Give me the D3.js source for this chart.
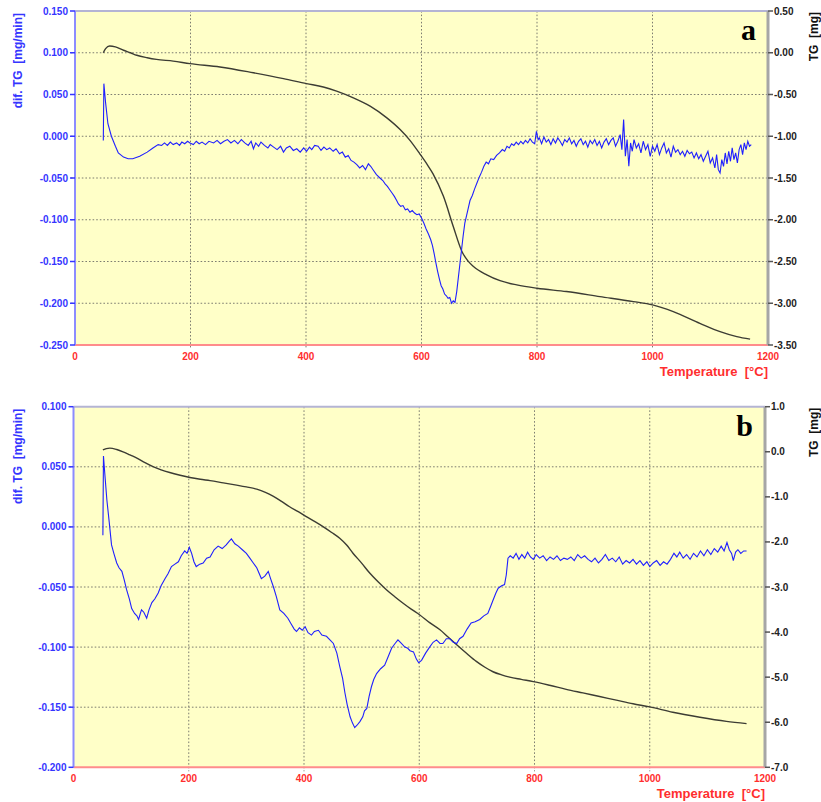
<!DOCTYPE html>
<html>
<head>
  <meta charset="utf-8">
  <script src="https://d3js.org/d3.v7.min.js"></script>
  <style>
    body { margin: 0; background: #ffffff; }
    svg { display: block; }
  </style>
</head>
<body>
<script type="text/javascript">
  // ---- data: [temperature °C, value] ----

  // panel a, DTG (mg/min)
  var dtgA = [
    [49,-0.005],[50,0.063],[53,0.040],[57,0.015],[63,0.000],[70,-0.012],[75,-0.020],[84,-0.025],
    [92,-0.027],[100,-0.027],[112,-0.024],[125,-0.019],[135,-0.014],[144,-0.010],[150,-0.011],
    [155,-0.008],[160,-0.011],[165,-0.007],[170,-0.010],[176,-0.008],[181,-0.011],[185,-0.007],
    [190,-0.009],[195,-0.006],[199,-0.008],[205,-0.010],[210,-0.006],[215,-0.009],[220,-0.007],
    [226,-0.010],[232,-0.006],[240,-0.008],[246,-0.005],[252,-0.009],[258,-0.006],[264,-0.004],
    [270,-0.008],[276,-0.005],[282,-0.009],[288,-0.004],[294,-0.008],[300,-0.011],[305,-0.006],
    [309,-0.015],[313,-0.008],[318,-0.012],[322,-0.007],[328,-0.011],[334,-0.014],[338,-0.010],
    [344,-0.013],[350,-0.016],[356,-0.012],[361,-0.019],[366,-0.014],[372,-0.012],[378,-0.017],
    [384,-0.015],[390,-0.019],[396,-0.014],[401,-0.018],[406,-0.013],[410,-0.016],[415,-0.011],
    [421,-0.012],[426,-0.017],[431,-0.013],[436,-0.016],[441,-0.014],[447,-0.018],[452,-0.015],
    [458,-0.021],[463,-0.019],[468,-0.025],[473,-0.023],[478,-0.029],[483,-0.031],[488,-0.034],
    [493,-0.038],[498,-0.035],[503,-0.040],[508,-0.033],[512,-0.036],[517,-0.041],[522,-0.046],
    [528,-0.050],[533,-0.053],[537,-0.057],[541,-0.060],[545,-0.064],[549,-0.068],[553,-0.072],
    [557,-0.077],[560,-0.081],[564,-0.084],[568,-0.083],[572,-0.088],[576,-0.087],[580,-0.091],
    [584,-0.089],[588,-0.092],[592,-0.094],[596,-0.093],[600,-0.098],[604,-0.104],[608,-0.111],
    [612,-0.117],[616,-0.124],[619,-0.131],[622,-0.141],[625,-0.152],[628,-0.162],[631,-0.171],
    [634,-0.179],[637,-0.183],[640,-0.189],[643,-0.191],[646,-0.194],[649,-0.193],[652,-0.200],
    [655,-0.197],[658,-0.199],[661,-0.186],[664,-0.168],[667,-0.150],[669,-0.138],[672,-0.120],
    [675,-0.104],[678,-0.095],[681,-0.086],[684,-0.077],[688,-0.071],[692,-0.063],[696,-0.056],
    [700,-0.049],[704,-0.043],[708,-0.036],[712,-0.031],[716,-0.033],[720,-0.027],[725,-0.028],
    [730,-0.023],[735,-0.020],[740,-0.016],[744,-0.018],[748,-0.012],[752,-0.014],[756,-0.009],
    [760,-0.011],[764,-0.007],[768,-0.010],[772,-0.006],[776,-0.009],[780,-0.005],[784,-0.008],
    [788,-0.003],[792,-0.007],[796,-0.009],[799,0.006],[802,-0.004],[804,-0.002],[808,-0.009],
    [812,-0.001],[816,-0.007],[820,-0.004],[824,-0.010],[828,-0.003],[832,-0.008],[836,-0.002],
    [840,-0.006],[844,-0.011],[848,-0.004],[852,-0.007],[856,-0.002],[860,-0.009],[864,-0.005],
    [868,-0.012],[872,-0.006],[876,-0.003],[880,-0.010],[884,-0.006],[888,-0.013],[892,-0.005],
    [896,-0.009],[900,-0.004],[904,-0.011],[908,-0.006],[912,-0.014],[916,-0.007],[920,-0.003],
    [924,-0.010],[928,-0.005],[932,-0.002],[936,-0.012],[940,-0.006],[944,0.002],[947,-0.016],
    [950,0.020],[953,-0.024],[956,-0.004],[959,-0.036],[962,-0.008],[965,-0.018],[968,-0.004],
    [972,-0.014],[976,-0.009],[980,-0.020],[984,-0.006],[988,-0.016],[992,-0.010],[996,-0.024],
    [1000,-0.012],[1004,-0.018],[1008,-0.010],[1012,-0.022],[1016,-0.014],[1020,-0.008],
    [1024,-0.020],[1028,-0.015],[1032,-0.025],[1036,-0.012],[1040,-0.019],[1044,-0.016],
    [1048,-0.022],[1052,-0.018],[1056,-0.024],[1060,-0.017],[1064,-0.021],[1068,-0.019],
    [1072,-0.026],[1076,-0.020],[1080,-0.027],[1084,-0.022],[1088,-0.030],[1092,-0.024],
    [1096,-0.018],[1100,-0.032],[1104,-0.026],[1108,-0.038],[1111,-0.022],[1114,-0.040],
    [1117,-0.044],[1120,-0.028],[1123,-0.036],[1126,-0.020],[1129,-0.033],[1132,-0.018],
    [1135,-0.030],[1138,-0.014],[1141,-0.028],[1144,-0.020],[1147,-0.032],[1150,-0.016],
    [1153,-0.010],[1156,-0.022],[1159,-0.008],[1162,-0.016],[1165,-0.006],[1168,-0.012],[1171,-0.010]
  ];

  // panel a, TG (mg)
  var tgA = [
    [49,0.00],[53,0.05],[60,0.08],[70,0.07],[84,0.03],[96,0.00],[107,-0.03],[125,-0.06],
    [141,-0.08],[170,-0.10],[199,-0.13],[251,-0.17],[309,-0.24],[361,-0.31],[401,-0.37],
    [430,-0.41],[453,-0.46],[482,-0.54],[511,-0.64],[540,-0.78],[563,-0.92],[580,-1.05],
    [597,-1.21],[610,-1.34],[620,-1.45],[638,-1.72],[655,-2.08],[670,-2.38],[680,-2.49],
    [690,-2.56],[713,-2.66],[736,-2.73],[765,-2.78],[800,-2.82],[851,-2.86],[909,-2.92],
    [967,-2.98],[1000,-3.02],[1036,-3.10],[1082,-3.24],[1117,-3.34],[1146,-3.40],[1169,-3.43]
  ];

  // panel b, DTG (mg/min)
  var dtgB = [
    [51,-0.007],[52,0.059],[55,0.040],[58,0.022],[62,0.004],[66,-0.015],[70,-0.022],[75,-0.030],
    [79,-0.034],[84,-0.037],[88,-0.044],[92,-0.052],[97,-0.060],[101,-0.068],[106,-0.072],
    [110,-0.074],[113,-0.077],[116,-0.072],[118,-0.069],[122,-0.071],[127,-0.076],[131,-0.069],
    [136,-0.063],[141,-0.060],[147,-0.055],[152,-0.049],[159,-0.043],[164,-0.039],[170,-0.033],
    [176,-0.031],[182,-0.029],[187,-0.024],[193,-0.020],[197,-0.022],[201,-0.017],[205,-0.022],
    [209,-0.029],[213,-0.033],[219,-0.031],[225,-0.030],[231,-0.026],[237,-0.025],[244,-0.019],
    [251,-0.016],[258,-0.018],[265,-0.015],[270,-0.012],[274,-0.010],[280,-0.014],[286,-0.016],
    [293,-0.019],[300,-0.022],[306,-0.026],[312,-0.030],[318,-0.034],[326,-0.043],[332,-0.041],
    [338,-0.037],[342,-0.043],[347,-0.050],[352,-0.058],[358,-0.069],[365,-0.072],[372,-0.076],
    [378,-0.081],[383,-0.085],[387,-0.087],[392,-0.084],[397,-0.086],[402,-0.083],[407,-0.088],
    [413,-0.090],[418,-0.087],[425,-0.086],[431,-0.090],[439,-0.091],[445,-0.094],[451,-0.097],
    [457,-0.105],[462,-0.116],[467,-0.126],[471,-0.138],[475,-0.148],[480,-0.158],[484,-0.163],
    [488,-0.167],[492,-0.165],[497,-0.162],[502,-0.158],[505,-0.153],[509,-0.151],[513,-0.141],
    [517,-0.133],[521,-0.127],[526,-0.122],[533,-0.118],[540,-0.115],[546,-0.108],[552,-0.101],
    [558,-0.097],[563,-0.094],[569,-0.097],[575,-0.100],[580,-0.101],[584,-0.103],[590,-0.104],
    [595,-0.110],[599,-0.113],[604,-0.111],[611,-0.105],[618,-0.100],[624,-0.096],[630,-0.094],
    [636,-0.097],[641,-0.097],[647,-0.093],[653,-0.093],[659,-0.096],[665,-0.097],[670,-0.093],
    [676,-0.091],[683,-0.085],[690,-0.080],[697,-0.079],[705,-0.077],[712,-0.074],[719,-0.072],
    [724,-0.066],[728,-0.061],[733,-0.055],[737,-0.051],[743,-0.049],[748,-0.048],[751,-0.040],
    [754,-0.026],[758,-0.024],[763,-0.026],[768,-0.022],[773,-0.027],[778,-0.023],[783,-0.026],
    [788,-0.021],[793,-0.025],[798,-0.027],[803,-0.023],[809,-0.026],[815,-0.024],[821,-0.028],
    [827,-0.025],[833,-0.027],[839,-0.024],[845,-0.028],[851,-0.026],[857,-0.027],[863,-0.025],
    [869,-0.028],[875,-0.023],[881,-0.026],[887,-0.024],[893,-0.027],[899,-0.029],[905,-0.026],
    [911,-0.030],[917,-0.027],[923,-0.023],[929,-0.028],[935,-0.026],[941,-0.029],[947,-0.025],
    [953,-0.031],[959,-0.028],[965,-0.030],[971,-0.027],[977,-0.031],[983,-0.028],[989,-0.032],
    [995,-0.029],[1000,-0.033],[1006,-0.030],[1012,-0.028],[1018,-0.032],[1024,-0.029],
    [1030,-0.031],[1036,-0.027],[1042,-0.022],[1047,-0.025],[1052,-0.021],[1058,-0.026],
    [1064,-0.023],[1070,-0.027],[1076,-0.022],[1082,-0.025],[1088,-0.020],[1094,-0.024],
    [1100,-0.019],[1106,-0.023],[1112,-0.018],[1118,-0.021],[1124,-0.016],[1129,-0.020],
    [1134,-0.013],[1138,-0.019],[1142,-0.022],[1145,-0.028],[1149,-0.021],[1153,-0.019],
    [1158,-0.022],[1163,-0.020],[1168,-0.020]
  ];

  // panel b, TG (mg)
  var tgB = [
    [51,0.04],[57,0.07],[63,0.08],[75,0.05],[86,0.00],[98,-0.07],[110,-0.14],[124,-0.24],
    [138,-0.33],[152,-0.40],[167,-0.46],[185,-0.52],[202,-0.57],[220,-0.61],[237,-0.64],
    [260,-0.69],[283,-0.74],[300,-0.78],[318,-0.83],[333,-0.90],[347,-0.99],[361,-1.10],
    [375,-1.22],[390,-1.33],[404,-1.44],[419,-1.55],[433,-1.66],[448,-1.79],[462,-1.92],
    [474,-2.07],[485,-2.25],[500,-2.47],[514,-2.69],[529,-2.89],[543,-3.06],[557,-3.21],
    [572,-3.36],[586,-3.49],[601,-3.62],[618,-3.79],[636,-3.95],[650,-4.11],[665,-4.28],
    [682,-4.47],[699,-4.65],[714,-4.78],[728,-4.88],[743,-4.95],[757,-5.00],[777,-5.05],
    [798,-5.10],[826,-5.18],[855,-5.27],[884,-5.35],[913,-5.43],[942,-5.51],[971,-5.59],
    [1000,-5.66],[1040,-5.78],[1087,-5.89],[1133,-5.98],[1168,-6.03]
  ];

  // tick values
  var xTicks = [0, 200, 400, 600, 800, 1000, 1200];
  var leftTicksA = [0.150, 0.100, 0.050, 0.000, -0.050, -0.100, -0.150, -0.200, -0.250];
  var rightTicksA = [0.50, 0.00, -0.50, -1.00, -1.50, -2.00, -2.50, -3.00, -3.50];
  var leftTicksB = [0.100, 0.050, 0.000, -0.050, -0.100, -0.150, -0.200];
  var rightTicksB = [1.0, 0.0, -1.0, -2.0, -3.0, -4.0, -5.0, -6.0, -7.0];

  var blue = "#3535ff", red = "#ff2e2e", font = "Arial, 'Liberation Sans', sans-serif";

  var svg = d3.select("body").append("svg")
      .attr("width", 821)
      .attr("height", 802);

  // plain number formatting with a hyphen minus
  function fmt(dec) {
    return function (v) {
      var s = Math.abs(v).toFixed(dec);
      return (v < 0 && +s !== 0 ? "-" : "") + s;
    };
  }

  function drawPanel(p) {
    var g = svg.append("g");

    var x = d3.scaleLinear().domain([0, 1200]).range([p.left, p.right]);
    var yL = d3.scaleLinear().domain(p.leftDomain).range([p.bottom, p.top]);
    var yR = d3.scaleLinear().domain(p.rightDomain).range([p.bottom, p.top]);

    // yellow plot area
    g.append("rect")
        .attr("x", p.left).attr("y", p.top)
        .attr("width", p.right - p.left).attr("height", p.bottom - p.top)
        .attr("fill", "#ffffc8");

    // dotted grid
    g.selectAll("line.vgrid")
        .data(xTicks.slice(1, -1))
        .enter().append("line")
        .attr("x1", function (d) { return x(d); }).attr("x2", function (d) { return x(d); })
        .attr("y1", p.top).attr("y2", p.bottom + 4)
        .attr("stroke", "#7d7d70").attr("stroke-width", 1).attr("stroke-dasharray", "1.6,2");
    g.selectAll("line.hgrid")
        .data(p.leftTicks.slice(1, -1))
        .enter().append("line")
        .attr("x1", p.left - 4).attr("x2", p.right)
        .attr("y1", function (d) { return yL(d); }).attr("y2", function (d) { return yL(d); })
        .attr("stroke", "#7d7d70").attr("stroke-width", 1).attr("stroke-dasharray", "1.6,2");

    // frame
    g.append("line").attr("x1", p.left).attr("x2", p.right).attr("y1", p.top).attr("y2", p.top)
        .attr("stroke", "#b4b4d4").attr("stroke-width", 2);
    g.append("line").attr("x1", p.left).attr("x2", p.right).attr("y1", p.bottom).attr("y2", p.bottom)
        .attr("stroke", "#ff8c8c").attr("stroke-width", 2);
    g.append("line").attr("x1", p.left).attr("x2", p.left).attr("y1", p.top).attr("y2", p.bottom)
        .attr("stroke", "#8c8cff").attr("stroke-width", 2);
    g.append("line").attr("x1", p.right).attr("x2", p.right).attr("y1", p.top).attr("y2", p.bottom)
        .attr("stroke", "#a6a6a6").attr("stroke-width", 3);

    // left ticks + labels
    g.selectAll("line.lt").data(p.leftTicks).enter().append("line")
        .attr("x1", p.left - 5).attr("x2", p.left)
        .attr("y1", function (d) { return yL(d); }).attr("y2", function (d) { return yL(d); })
        .attr("stroke", blue).attr("stroke-width", 1.5);
    g.selectAll("text.lt").data(p.leftTicks).enter().append("text")
        .attr("x", p.left - 7).attr("y", function (d) { return yL(d) + 3.5; })
        .attr("text-anchor", "end")
        .style("font-family", font).style("font-size", "10px").style("font-weight", "bold")
        .attr("fill", blue)
        .text(fmt(3));

    // right ticks + labels
    g.selectAll("line.rt").data(p.rightTicks).enter().append("line")
        .attr("x1", p.right).attr("x2", p.right + 5)
        .attr("y1", function (d) { return yR(d); }).attr("y2", function (d) { return yR(d); })
        .attr("stroke", "#555").attr("stroke-width", 1.5);
    g.selectAll("text.rt").data(p.rightTicks).enter().append("text")
        .attr("x", p.right + 6).attr("y", function (d) { return yR(d) + 3.5; })
        .style("font-family", font).style("font-size", "10px").style("font-weight", "bold")
        .attr("fill", "#222")
        .text(fmt(p.rightDec));

    // bottom labels
    g.selectAll("text.xt").data(xTicks).enter().append("text")
        .attr("x", function (d) { return x(d); }).attr("y", p.bottom + 15)
        .attr("text-anchor", "middle")
        .style("font-family", font).style("font-size", "10px").style("font-weight", "bold")
        .attr("fill", red)
        .text(function (d) { return d; });

    // axis titles
    g.append("text")
        .attr("transform", "translate(22," + (p.top + 2) + ") rotate(-90)")
        .attr("text-anchor", "end")
        .style("font-family", font).style("font-size", "12px").style("font-weight", "bold")
        .attr("fill", blue)
        .text("dif. TG\u00a0\u00a0[mg/min]");
    g.append("text")
        .attr("transform", "translate(818," + (p.top + 1) + ") rotate(-90)")
        .attr("text-anchor", "end")
        .style("font-family", font).style("font-size", "12px").style("font-weight", "bold")
        .attr("fill", "#111")
        .text("TG\u00a0\u00a0[mg]");
    g.append("text")
        .attr("x", p.right).attr("y", p.bottom + 31)
        .attr("text-anchor", "end")
        .style("font-family", font).style("font-size", "13px").style("font-weight", "bold")
        .attr("fill", red)
        .text("Temperature\u00a0\u00a0[°C]");

    // panel letter
    g.append("text")
        .attr("x", p.right - 12).attr("y", p.top + 29)
        .attr("text-anchor", "end")
        .style("font-family", "'Liberation Serif', 'Times New Roman', serif")
        .style("font-size", "30px").style("font-weight", "bold")
        .attr("fill", "#000")
        .text(p.letter);

    // curves
    var lineL = d3.line().x(function (d) { return x(d[0]); }).y(function (d) { return yL(d[1]); });
    var lineR = d3.line().x(function (d) { return x(d[0]); }).y(function (d) { return yR(d[1]); }).curve(d3.curveMonotoneX);

    g.append("path").datum(p.tg).attr("d", lineR)
        .attr("fill", "none").attr("stroke", "#3c3c34").attr("stroke-width", 1.4);
    g.append("path").datum(p.dtg).attr("d", lineL)
        .attr("fill", "none").attr("stroke", "#1f1fff").attr("stroke-width", 1.1);
  }

  drawPanel({
    left: 75, right: 768, top: 11, bottom: 345,
    leftDomain: [-0.250, 0.150], rightDomain: [-3.50, 0.50],
    leftTicks: leftTicksA, rightTicks: rightTicksA, rightDec: 2,
    dtg: dtgA, tg: tgA, letter: "a"
  });

  drawPanel({
    left: 73.5, right: 765, top: 406.7, bottom: 767.3,
    leftDomain: [-0.200, 0.100], rightDomain: [-7.0, 1.0],
    leftTicks: leftTicksB, rightTicks: rightTicksB, rightDec: 1,
    dtg: dtgB, tg: tgB, letter: "b"
  });
</script>
</body>
</html>
